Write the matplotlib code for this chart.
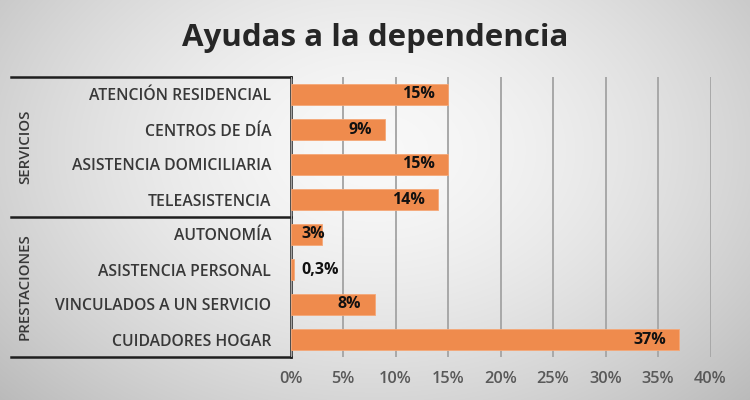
import numpy as np
import matplotlib
matplotlib.use("Agg")
import matplotlib.pyplot as plt
from matplotlib.lines import Line2D

plt.rcParams['font.family'] = ['Open Sans', 'DejaVu Sans']

title = "Ayudas a la dependencia"
categories = ["ATENCIÓN RESIDENCIAL", "CENTROS DE DÍA", "ASISTENCIA DOMICILIARIA",
              "TELEASISTENCIA", "AUTONOMÍA", "ASISTENCIA PERSONAL",
              "VINCULADOS A UN SERVICIO", "CUIDADORES HOGAR"]
values = [0.15, 0.09, 0.15, 0.14, 0.03, 0.003, 0.08, 0.37]
value_labels = ["15%", "9%", "15%", "14%", "3%", "0,3%", "8%", "37%"]
groups = ["SERVICIOS", "PRESTACIONES"]
group_sizes = [4, 4]
xticks = [0, 0.05, 0.10, 0.15, 0.20, 0.25, 0.30, 0.35, 0.40]
xtick_labels = ["0%", "5%", "10%", "15%", "20%", "25%", "30%", "35%", "40%"]

W, H = 750, 400
fig = plt.figure(figsize=(7.5, 4), dpi=100)

# radial gradient background
bg = fig.add_axes([0, 0, 1, 1], zorder=-10)
yy, xx = np.mgrid[0:H, 0:W]
d = np.sqrt(((xx - 375) / 470.0) ** 2 + ((yy - 150) / 330.0) ** 2)
val = 0.975 - 0.21 * np.clip(d, 0, 1.3) ** 1.6
img = np.dstack([val, val, val])
bg.imshow(img, extent=[0, W, H, 0], aspect='auto', interpolation='bilinear')
bg.set_xlim(0, W); bg.set_ylim(H, 0)
bg.axis('off')

x0, x1 = 290.5, 710.5
top, bot = 77, 357
ax = fig.add_axes([x0 / W, 1 - bot / H, (x1 - x0) / W, (bot - top) / H])
ax.patch.set_alpha(0)
n = len(categories)
ypos = np.arange(n)
ax.barh(ypos, values, height=0.58, color="#EF8B4D", edgecolor="#F5A878", linewidth=0.6, zorder=3)
ax.set_xlim(0, 0.40)
ax.set_ylim(n - 0.5, -0.5)
ax.set_xticks(xticks)
ax.set_xticklabels(xtick_labels, color="#595959", fontsize=11.8, fontweight='semibold')
ax.set_yticks(ypos)
ax.set_yticklabels(categories, color="#383838", fontsize=11.3, fontweight='semibold')
ax.tick_params(axis='x', length=0, pad=10)
ax.tick_params(axis='y', length=0, pad=14)
ax.grid(axis='x', color="#a8a8a8", linewidth=1.4, zorder=0)
for s in ax.spines.values():
    s.set_visible(False)

for i, (v, lab) in enumerate(zip(values, value_labels)):
    if v >= 0.05:
        ax.annotate(lab, (v, i), xytext=(-13, 0), textcoords='offset pixels',
                    ha='right', va='center', fontsize=11.5, fontweight='bold',
                    color="#111111", zorder=5)
    else:
        ax.annotate(lab, (0, i), xytext=(11, 0), textcoords='offset pixels',
                    ha='left', va='center', fontsize=11.5, fontweight='bold',
                    color="#111111", zorder=5)

# group box lines
row_h = (bot - top) / n
lc = "#1e1e1e"
def hline(y):
    bg.add_line(Line2D([11, x0], [y, y], color=lc, linewidth=1.8))
hline(top)
hline(bot)
start = 0
for g, sz in zip(groups, group_sizes):
    y_a = top + start * row_h
    y_b = top + (start + sz) * row_h
    if start > 0:
        hline(y_a)
    bg.text(25, (y_a + y_b) / 2, g, rotation=90, ha='center', va='center',
            fontsize=10.8, fontweight='semibold', color="#383838")
    start += sz
bg.add_line(Line2D([x0, x0], [top, bot], color=lc, linewidth=1.8))

fig.text(0.5, 1 - 38 / H, title, ha='center', va='center', fontsize=22.5,
         fontweight='bold', color="#262626")

fig.savefig("out.png", dpi=100)
